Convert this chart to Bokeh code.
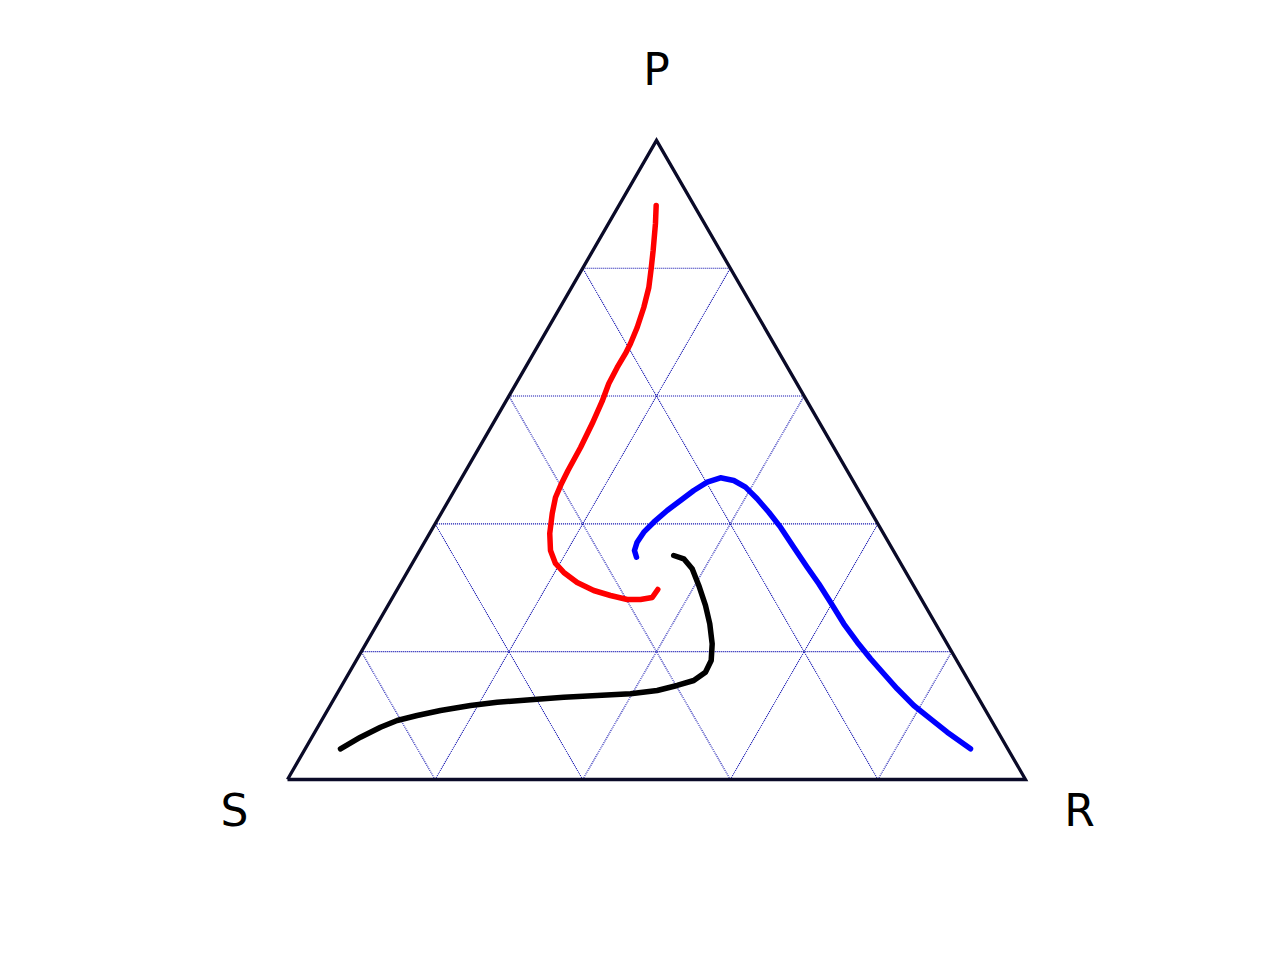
import math
from bokeh.plotting import figure
from bokeh.models import Range1d
from bokeh.core.properties import value
from bokeh.embed import file_html
from bokeh.resources import INLINE

# ---- data: ternary fractions (P = top, R = right, S = 1 - P - R) ----
vertex_labels = ["P", "S", "R"]
grid_levels = [0.2, 0.4, 0.6, 0.8]

red_p = [0.8981, 0.8700, 0.8277, 0.7996, 0.7698, 0.7385, 0.7072, 0.6822, 0.6666,
         0.6447, 0.6196, 0.5915, 0.5570, 0.5195, 0.4835, 0.4632, 0.4412, 0.4162,
         0.3849, 0.3583, 0.3380, 0.3239, 0.3082, 0.2957, 0.2879, 0.2816, 0.2816,
         0.2848, 0.2973]
red_r = [0.0505, 0.0636, 0.0816, 0.0930, 0.1047, 0.1135, 0.1202, 0.1237, 0.1247,
         0.1244, 0.1256, 0.1305, 0.1344, 0.1373, 0.1383, 0.1397, 0.1425, 0.1506,
         0.1629, 0.1772, 0.1941, 0.2124, 0.2384, 0.2671, 0.2937, 0.3195, 0.3375,
         0.3518, 0.3531]

blue_p = [0.3478, 0.3583, 0.3713, 0.3870, 0.4026, 0.4209, 0.4366, 0.4522, 0.4652,
          0.4721, 0.4678, 0.4574, 0.4392, 0.4182, 0.3948, 0.3635, 0.3322, 0.3062,
          0.2774, 0.2436, 0.2148, 0.1889, 0.1654, 0.1419, 0.1158, 0.0950, 0.0740,
          0.0480]
blue_r = [0.2990, 0.2910, 0.2881, 0.2893, 0.2950, 0.3040, 0.3142, 0.3244, 0.3361,
          0.3506, 0.3708, 0.3919, 0.4168, 0.4431, 0.4706, 0.5042, 0.5381, 0.5668,
          0.5971, 0.6320, 0.6646, 0.6956, 0.7253, 0.7552, 0.7907, 0.8238, 0.8569,
          0.9015]

black_p = [0.3505, 0.3453, 0.3297, 0.3036, 0.2723, 0.2436, 0.2123, 0.1862, 0.1679,
           0.1549, 0.1471, 0.1393, 0.1341, 0.1314, 0.1288, 0.1247, 0.1210, 0.1158,
           0.1080, 0.1001, 0.0923, 0.0818, 0.0662, 0.0480]
black_r = [0.3481, 0.3643, 0.3835, 0.4055, 0.4302, 0.4504, 0.4693, 0.4810, 0.4824,
           0.4730, 0.4544, 0.4313, 0.3977, 0.3539, 0.3100, 0.2669, 0.2236, 0.1901,
           0.1533, 0.1256, 0.1024, 0.0851, 0.0658, 0.0478]

H = math.sqrt(3) / 2


def to_xy(p_list, r_list):
    xs = [r + p / 2 for p, r in zip(p_list, r_list)]
    ys = [p * H for p in p_list]
    return xs, ys


W, HT = 1264, 944
scale = 738.0
x0_px, y0_px = 287, 779
p = figure(width=W, height=HT, output_backend="svg", toolbar_location=None,
           x_range=Range1d(-x0_px / scale, (W - x0_px) / scale),
           y_range=Range1d(-(HT - y0_px) / scale, y0_px / scale),
           min_border=0, outline_line_color=None)
p.axis.visible = False
p.xgrid.visible = False
p.ygrid.visible = False
p.background_fill_color = "white"
p.border_fill_color = "white"

# grid lines
gx, gy = [], []
for k in grid_levels:
    a = to_xy([k, k], [0, 1 - k]); gx.append(a[0]); gy.append(a[1])
    a = to_xy([0, 1 - k], [k, k]); gx.append(a[0]); gy.append(a[1])
    a = to_xy([0, 1 - k], [1 - k, 0]); gx.append(a[0]); gy.append(a[1])
p.multi_line(gx, gy, line_color="#0000aa", line_width=1.1, line_dash="1 1", line_alpha=1.0)

# triangle border
tx, ty = to_xy([0, 0, 1, 0], [0, 1, 0, 0])
p.line(tx, ty, line_color="#0a0a28", line_width=3.3, line_join="miter")

for pl, rl, col in [(red_p, red_r, "red"), (blue_p, blue_r, "blue"), (black_p, black_r, "black")]:
    xs, ys = to_xy(pl, rl)
    p.line(xs, ys, line_color=col, line_width=5.5, line_join="round", line_cap="round")

# vertex labels
lx = [0.5, -0.0718, 1.0732]
ly = [0.9621, -0.0420, -0.0420]
p.text(lx, ly, text=vertex_labels, text_font=value("DejaVu Sans"), text_font_size="44px",
       text_align="center", text_baseline="alphabetic", text_color="black")

open("out.html", "w").write(file_html(p, INLINE))
